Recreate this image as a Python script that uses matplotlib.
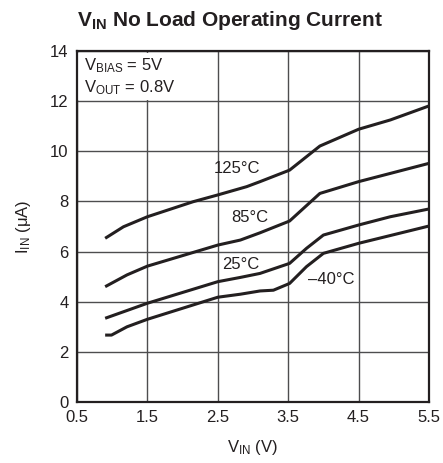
import matplotlib
matplotlib.use("Agg")
from matplotlib import pyplot as plt
from matplotlib.patches import Rectangle

plt.rcParams["font.family"] = ["Liberation Sans", "DejaVu Sans"]
plt.rcParams["mathtext.fontset"] = "custom"
plt.rcParams["mathtext.rm"] = "Liberation Sans"
plt.rcParams["mathtext.bf"] = "Liberation Sans:bold"
plt.rcParams["mathtext.default"] = "regular"

# curves (V_IN in V, I_IN in uA)
VIN_125 = [0.9, 1.16, 1.5, 2.15, 2.5, 2.91, 3.1, 3.52, 3.95, 4.5, 4.95, 5.5]
IIN_125 = [6.53, 6.99, 7.39, 7.99, 8.26, 8.59, 8.79, 9.25, 10.21, 10.88, 11.25, 11.81]

VIN_85 = [0.9, 1.21, 1.5, 2.5, 2.82, 3.1, 3.52, 3.95, 4.5, 5.5]
IIN_85 = [4.6, 5.07, 5.42, 6.26, 6.46, 6.75, 7.22, 8.32, 8.79, 9.52]

VIN_25 = [0.9, 1.5, 2.5, 2.82, 3.1, 3.52, 3.76, 4.0, 4.5, 4.95, 5.5]
IIN_25 = [3.34, 3.94, 4.8, 4.97, 5.13, 5.53, 6.13, 6.66, 7.06, 7.39, 7.7]

VIN_M40 = [0.9, 0.99, 1.21, 1.5, 2.5, 2.82, 3.1, 3.29, 3.52, 3.76, 4.0, 4.5, 5.5]
IIN_M40 = [2.67, 2.67, 3.0, 3.3, 4.18, 4.3, 4.43, 4.46, 4.73, 5.4, 5.93, 6.33, 7.02]

curves = [(VIN_125, IIN_125, "125°C", 2.77, 9.33),
          (VIN_85, IIN_85, "85°C", 2.96, 7.34),
          (VIN_25, IIN_25, "25°C", 2.83, 5.47),
          (VIN_M40, IIN_M40, "\u201340°C", 4.11, 4.87)]

fig = plt.figure(figsize=(4.43, 4.63), dpi=100)
ax = fig.add_axes([0.1738, 0.1317, 0.7946, 0.7581])

for (vin, iin, name, lx, ly) in curves:
    ax.plot(vin, iin, color="#231f20", lw=2.2, solid_capstyle="butt", zorder=3)
    ax.text(lx, ly, name, ha="center", va="center", fontsize=12, color="#231f20", zorder=4)

ax.set_xlim(0.5, 5.5)
ax.set_ylim(0, 14)
ax.set_xticks([0.5, 1.5, 2.5, 3.5, 4.5, 5.5])
ax.set_xticklabels(["0.5", "1.5", "2.5", "3.5", "4.5", "5.5"])
ax.set_yticks(range(0, 15, 2))
ax.tick_params(length=0, labelsize=12, colors="#231f20", pad=6)
ax.set_axisbelow(True)
ax.grid(color="#4d4d4f", lw=1.0)
for sp in ax.spines.values():
    sp.set_linewidth(1.6)
    sp.set_color("#231f20")

# white box behind the conditions note
ax.add_patch(Rectangle((0.52, 12.06), 1.6, 1.88, facecolor="white", edgecolor="none", zorder=1))
ax.text(0.6, 13.4, "V$_{BIAS}$ = 5V", fontsize=12, va="center", color="#231f20")
ax.text(0.6, 12.55, "V$_{OUT}$ = 0.8V", fontsize=12, va="center", color="#231f20")

ax.set_xlabel("V$_{IN}$ (V)", fontsize=12, color="#231f20", labelpad=9)
ax.set_ylabel("I$_{IN}$ (\u03bcA)", fontsize=12, color="#231f20", labelpad=12)
fig.text(0.52, 0.955, r"$\mathbf{V_{IN}}$ No Load Operating Current", ha="center", va="center",
         fontsize=15, fontweight="bold", color="#231f20")

fig.savefig("out.png", dpi=100)
